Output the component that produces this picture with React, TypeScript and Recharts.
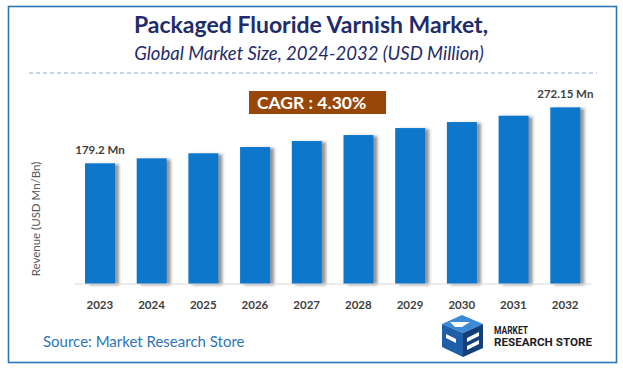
import React from "react";
import { BarChart, Bar, XAxis, YAxis, LabelList } from "recharts";

const years = ["2023", "2024", "2025", "2026", "2027", "2028", "2029", "2030", "2031", "2032"];
const revenue = [179.2, 186.6, 194.1, 203.4, 212.3, 221.2, 231.6, 240.5, 249.9, 262.3];
const barLabels = ["179.2 Mn", "", "", "", "", "", "", "", "", "272.15 Mn"];

const titleText = "Packaged Fluoride Varnish Market,";
const subtitleText = "Global Market Size, 2024-2032 (USD Million)";
const cagrText = "CAGR : 4.30%";
const sourceText = "Source: Market Research Store";
const yLabel = "Revenue (USD Mn/Bn)";

const data = years.map((y, i) => ({ year: y, value: revenue[i], label: barLabels[i] }));

const FONT = "Lato, 'Open Sans', sans-serif";

const BarShape = (props: any) => {
  const { x, y, width, height } = props;
  return (
    <g>
      <defs>
        <filter id="barShadow" x="-30%" y="-10%" width="170%" height="130%">
          <feDropShadow dx="4" dy="1" stdDeviation="1.8" floodColor="#404040" floodOpacity="0.55" />
        </filter>
      </defs>
      <rect x={x} y={y} width={width} height={height} fill="#0777cc" filter="url(#barShadow)" />
    </g>
  );
};

const Tick = (props: any) => {
  const { x, y, payload } = props;
  return (
    <text x={x} y={y + 17} textAnchor="middle" fontFamily={FONT} fontSize={11.5} fontWeight={700} fill="#404040">
      {payload.value}
    </text>
  );
};

const TopLabel = (props: any) => {
  const { x, y, width, value } = props;
  if (!value) return null;
  return (
    <text x={x + width / 2} y={y - 9} textAnchor="middle" fontFamily={FONT} fontWeight={700} fontSize={11.5} fill="#404040">
      {value}
    </text>
  );
};

export default function App() {
  return (
    <div style={{ position: "absolute", left: 0, top: 0, width: 623, height: 369, background: "#fff" }}>
      <svg width={623} height={369} style={{ position: "absolute", left: 0, top: 0 }}>
        <rect x={8.5} y={6.5} width={608} height={356} fill="#fff" stroke="#2e75b6" strokeWidth={1.6} />
        <text x={311} y={33} textAnchor="middle" fontFamily={FONT} fontWeight={700} fontSize={23} fill="#1f2c6b">
          {titleText}
        </text>
        <text x={309} y={60} textAnchor="middle" fontFamily={FONT} fontStyle="italic" fontSize={18.5} fill="#1f2c6b">
          {subtitleText}
        </text>
        <line x1={29} y1={73} x2={597} y2={73} stroke="#8fa9d4" strokeWidth={1} strokeDasharray="4 3" />
        <rect x={249} y={91} width={137} height={23} fill="#994708" />
        <text x={257} y={109} fontFamily={FONT} fontWeight={700} fontSize={17.5} fill="#ffffff">
          {cagrText}
        </text>
        <text
          x={0}
          y={0}
          transform="translate(40 219) rotate(-90)"
          textAnchor="middle"
          fontFamily={FONT}
          fontSize={11.5}
          fill="#595959"
        >
          {yLabel}
        </text>
        <text x={43} y={347} fontFamily={FONT} fontSize={15} fill="#2e75b6">
          {sourceText}
        </text>
        <g>
          <polygon points="462,315 483,324 463,333 442,324" fill="#3a8ad6" />
          <polygon points="442,324 463,333 463,357 442,347" fill="#1f5fa8" />
          <polygon points="463,333 483,324 483,348 463,357" fill="#143f78" />
          <polygon points="450,322 470,322 462,327 455,327" fill="#ffffff" />
          <polygon points="446,334 456,339 456,343 446,338" fill="#ffffff" />
          <polygon points="467,338 479,332 479,336 467,342" fill="#ffffff" />
          <polygon points="467,346 479,340 479,344 467,350" fill="#ffffff" />
        </g>
        <text x={494} y={334} fontFamily="Roboto, sans-serif" fontWeight={700} fontSize={10.5} fill="#1c1c2a" textLength={34} lengthAdjust="spacingAndGlyphs">
          MARKET
        </text>
        <text x={494} y={345.5} fontFamily="Roboto, sans-serif" fontWeight={700} fontSize={10.5} fill="#1c1c2a" textLength={98} lengthAdjust="spacingAndGlyphs">
          RESEARCH STORE
        </text>
      </svg>
      <div style={{ position: "absolute", left: 0, top: 0 }}>
        <BarChart width={623} height={369} data={data} margin={{ top: 82, right: 32, bottom: 55, left: 74 }} barSize={30}>
          <YAxis hide domain={[0, 300]} />
          <XAxis
            dataKey="year"
            height={30}
            axisLine={{ stroke: "#d9d9d9", strokeWidth: 1.2 }}
            tickLine={false}
            tick={<Tick />}
            interval={0}
          />
          <Bar dataKey="value" shape={<BarShape />} isAnimationActive={false}>
            <LabelList dataKey="label" content={<TopLabel />} />
          </Bar>
        </BarChart>
      </div>
    </div>
  );
}
